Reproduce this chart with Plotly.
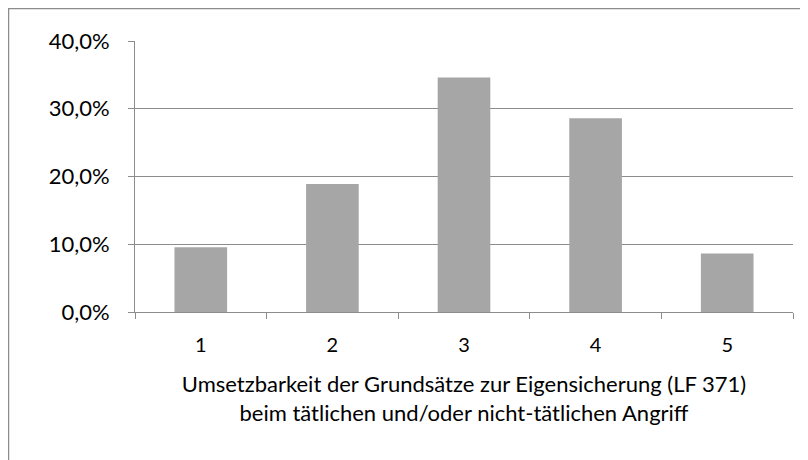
import plotly.graph_objects as go

categories = ["1", "2", "3", "4", "5"]
values = [0.0955, 0.189, 0.346, 0.286, 0.0865]
y_ticks = [0, 0.1, 0.2, 0.3, 0.4]
x_title = "Umsetzbarkeit der Grundsätze zur Eigensicherung (LF 371)<br>beim tätlichen und/oder nicht-tätlichen Angriff"

# page has an 8px body margin, so the figure is drawn 8px smaller and shifted
OFF = 8
W, H = 808 - OFF, 460 - OFF
L, T = 135 - OFF, 41 - OFF
R = W - (793 - OFF)
B = H - (312 - OFF)
pw = W - L - R
ph = H - T - B

fig = go.Figure(go.Bar(x=categories, y=values, marker=dict(color="#A6A6A6", line=dict(width=0))))

font = "Lato, 'Open Sans', sans-serif"
fig.update_layout(
    width=W, height=H,
    margin=dict(l=L, r=R, t=T, b=B, autoexpand=False),
    paper_bgcolor="white", plot_bgcolor="white",
    separators=",.",
    bargap=0.6,
    showlegend=False,
    font=dict(family=font, size=20, color="#000000"),
)
fig.update_yaxes(
    range=[0, 0.4], tickvals=y_ticks, tickformat=".1%",
    showgrid=True, gridcolor="#8C8C8C", gridwidth=1,
    showline=True, linecolor="#8C8C8C", linewidth=1,
    ticks="outside", ticklen=6, tickcolor="#8C8C8C",
    zeroline=False, tickfont=dict(size=22), ticklabelstandoff=14,
)
fig.update_xaxes(
    type="category", tickson="boundaries",
    showline=True, linecolor="#8C8C8C", linewidth=1,
    ticks="outside", ticklen=6, tickcolor="#8C8C8C",
    tickfont=dict(size=20), ticklabelstandoff=15,
    title=dict(text=x_title, font=dict(size=22), standoff=21),
)
# outer chart border
x0 = (0.5 - L) / pw
y1 = (H - B - 0.5) / ph
fig.add_shape(type="rect", xref="paper", yref="paper", x0=x0, x1=2, y0=-2, y1=y1,
              line=dict(color="#8C8C8C", width=1.5), fillcolor="rgba(0,0,0,0)", layer="below")

fig.write_html("out.html")
